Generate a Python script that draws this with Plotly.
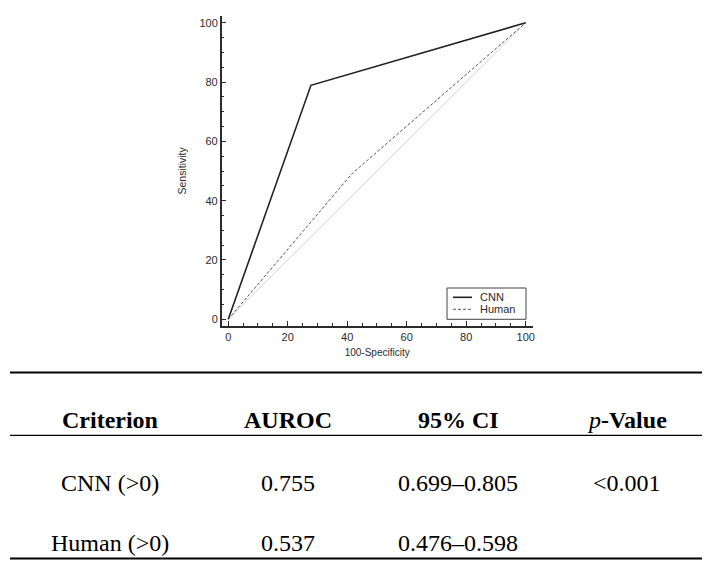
import plotly.graph_objects as go

# ROC data (100-Specificity, Sensitivity)
cnn_fpr = [0, 27.8, 100]
cnn_tpr = [0, 78.9, 100]
human_fpr = [0, 41.5, 100]
human_tpr = [0, 49.0, 100]
ref_x = [0, 100]
ref_y = [0, 100]

# Table data
table_header = ["Criterion", "AUROC", "95% CI", "p-Value"]
table_criterion = ["CNN (>0)", "Human (>0)"]
table_auroc = ["0.755", "0.537"]
table_ci = ["0.699\u20130.805", "0.476\u20130.598"]
table_p = ["<0.001", ""]

legend_names = ["CNN", "Human"]

W, H = 712, 565
def px_x(p):
    return p / W
def px_y(p):
    return (H - p) / H

sans = "Liberation Sans, Arial, sans-serif"
serif = "Liberation Serif, Times New Roman, serif"
ink = "#2b2b2b"

cnn_line = dict(color="#222222", width=1.6)
human_line = dict(color="#555555", width=1, dash="3px,2px")

fig = go.Figure()
fig.add_trace(go.Scatter(x=ref_x, y=ref_y, mode="lines",
                         line=dict(color="#d0d0d0", width=1), showlegend=False, hoverinfo="skip"))
fig.add_trace(go.Scatter(x=cnn_fpr, y=cnn_tpr, mode="lines", name=legend_names[0],
                         line=cnn_line, showlegend=False))
fig.add_trace(go.Scatter(x=human_fpr, y=human_tpr, mode="lines", name=legend_names[1],
                         line=human_line, showlegend=False))

axis_font = dict(family=sans, size=11, color=ink)
common = dict(showline=True, linecolor=ink, linewidth=1.5, showgrid=False, zeroline=False,
              ticks="inside", ticklen=5, tickwidth=1, tickcolor=ink, dtick=20, tick0=0,
              tickfont=axis_font, automargin=False,
              minor=dict(dtick=5, ticks="inside", ticklen=3, tickcolor=ink, tickwidth=1, showgrid=False))

fig.update_layout(
    template="none",
    width=W, height=H, margin=dict(l=0, r=0, t=0, b=0, pad=0),
    paper_bgcolor="white", plot_bgcolor="white",
    showlegend=False,
    xaxis=dict(domain=[px_x(221.7), px_x(532.7)], range=[-2.2, 102.35],
               title=dict(text="100-Specificity", font=dict(family=sans, size=10, color=ink), standoff=7),
               **common),
    yaxis=dict(domain=[px_y(325.7), px_y(16)], range=[-2.16, 102.27],
               title=dict(text="Sensitivity", font=dict(family=sans, size=10.5, color=ink), standoff=11),
               **common),
)

# Manual legend box
lx0, lx1, ly0, ly1 = 447, 526, 288, 319.3
fig.add_shape(type="rect", xref="paper", yref="paper", x0=px_x(lx0), x1=px_x(lx1), y0=px_y(ly1), y1=px_y(ly0),
              line=dict(color="#444444", width=1), fillcolor="white")
for name, ly, lstyle in [(legend_names[0], 297.3, cnn_line), (legend_names[1], 309.3, human_line)]:
    fig.add_shape(type="line", xref="paper", yref="paper", x0=px_x(453), x1=px_x(472), y0=px_y(ly), y1=px_y(ly),
                  line=dict(color=lstyle["color"], width=lstyle["width"], dash=lstyle.get("dash", "solid")))
    fig.add_annotation(x=px_x(478), y=px_y(ly), xref="paper", yref="paper", text=name, showarrow=False,
                       xanchor="left", yanchor="middle", font=dict(family=sans, size=11, color=ink))

# Table lines
fig.add_shape(type="line", xref="paper", yref="paper", x0=px_x(10), x1=px_x(702), y0=px_y(372.5), y1=px_y(372.5),
              line=dict(color="black", width=2.2))
fig.add_shape(type="line", xref="paper", yref="paper", x0=px_x(10), x1=px_x(702), y0=px_y(435.3), y1=px_y(435.3),
              line=dict(color="black", width=1.2))
fig.add_shape(type="line", xref="paper", yref="paper", x0=px_x(10), x1=px_x(702), y0=px_y(558.5), y1=px_y(558.5),
              line=dict(color="black", width=2.2))

col_x = [110, 288, 458, 627]
header_y = 420
row_y = [483, 543]

header_texts = ["<b>" + table_header[0] + "</b>", "<b>" + table_header[1] + "</b>",
                "<b>" + table_header[2] + "</b>", "<i>p</i><b>" + table_header[3][1:] + "</b>"]
for cx, t in zip(col_x, header_texts):
    fig.add_annotation(x=px_x(cx), y=px_y(header_y), xref="paper", yref="paper", text=t,
                       showarrow=False, xanchor="center", yanchor="middle",
                       font=dict(family=serif, size=24, color="black"))

for i, ry in enumerate(row_y):
    vals = [table_criterion[i], table_auroc[i], table_ci[i], table_p[i].replace("<", "&lt;")]
    for cx, t in zip(col_x, vals):
        if t:
            fig.add_annotation(x=px_x(cx), y=px_y(ry), xref="paper", yref="paper", text=t,
                               showarrow=False, xanchor="center", yanchor="middle",
                               font=dict(family=serif, size=24, color="black"))

fig.write_html("out.html", config={"displayModeBar": False},
               post_script="document.body.style.margin='0';document.body.style.overflow='hidden';")
